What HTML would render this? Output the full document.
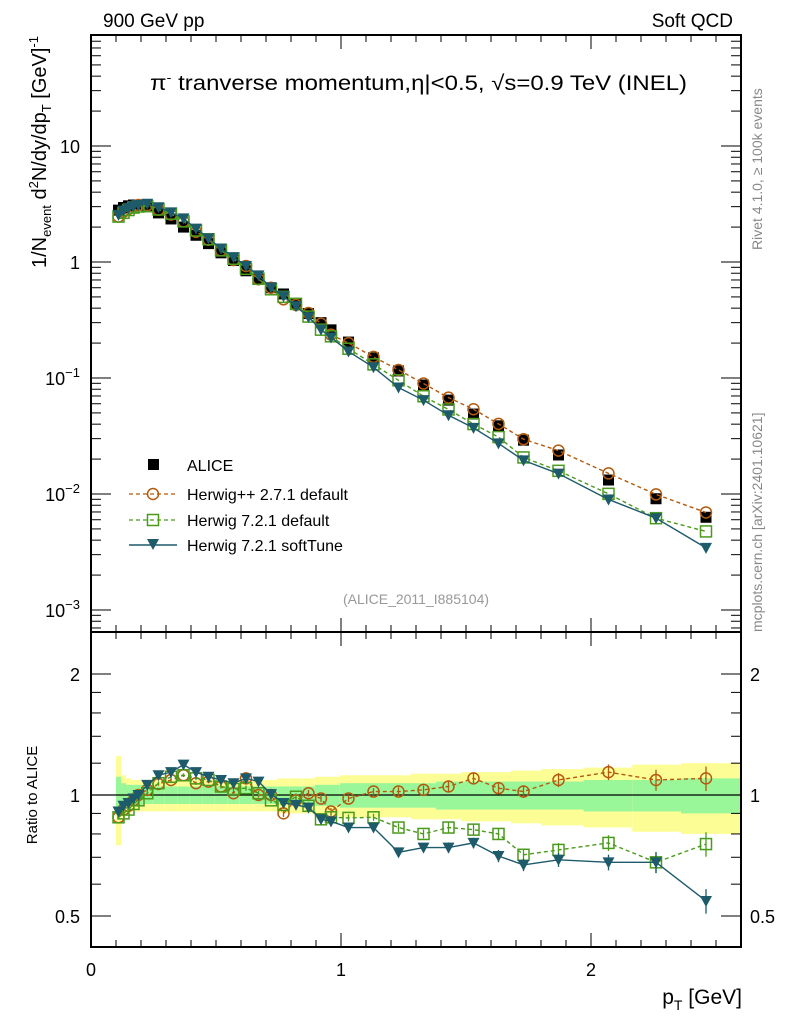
<!DOCTYPE html>
<html><head><meta charset="utf-8"><style>
html,body{margin:0;padding:0;background:#fff}
svg{display:block;font-family:"Liberation Sans",sans-serif}
</style></head><body>
<svg id="chart" width="786" height="1024" viewBox="0 0 786 1024" xmlns="http://www.w3.org/2000/svg">
<g id="bands"></g><g id="marks"></g><g id="axes"></g>
<text x="103" y="27" font-size="19">900 GeV pp</text>
<text x="733" y="27" font-size="19" text-anchor="end">Soft QCD</text>
<text x="150" y="90" font-size="21" textLength="537" lengthAdjust="spacingAndGlyphs">π<tspan font-size="13" dy="-8">-</tspan><tspan dy="8"> tranverse momentum,</tspan>η|&lt;0.5, √s=0.9 TeV (INEL)</text>
<text transform="translate(46,36) rotate(-90)" font-size="20" text-anchor="end">1/N<tspan font-size="13" dy="5">event</tspan><tspan dy="-5"> d</tspan><tspan font-size="13" dy="-8">2</tspan><tspan dy="8">N/dy/dp</tspan><tspan font-size="13" dy="5">T</tspan><tspan dy="-5">  [GeV]</tspan><tspan font-size="13" dy="-8">-1</tspan></text>
<text transform="translate(37,795) rotate(-90)" font-size="15" text-anchor="middle">Ratio to ALICE</text>
<text x="742" y="1004" font-size="21" text-anchor="end">p<tspan font-size="14" dy="6">T</tspan><tspan dy="-6"> [GeV]</tspan></text>
<text transform="translate(762,250) rotate(-90)" font-size="14" fill="#888">Rivet 4.1.0, ≥ 100k events</text>
<text transform="translate(762,632) rotate(-90)" font-size="14" fill="#888">mcplots.cern.ch [arXiv:2401.10621]</text>
<text x="416" y="604" font-size="14" fill="#999" text-anchor="middle">(ALICE_2011_I885104)</text>
<g font-size="16">
<rect x="148" y="459" width="11" height="11" fill="#000"/>
<text x="187" y="471">ALICE</text>
<line x1="129" y1="494" x2="177" y2="494" stroke="#b35a0e" stroke-width="1.3" stroke-dasharray="4,3"/>
<circle cx="153" cy="494" r="5.5" fill="none" stroke="#b35a0e" stroke-width="1.5"/>
<text x="187" y="500">Herwig++ 2.7.1 default</text>
<line x1="129" y1="520" x2="177" y2="520" stroke="#4a9a1c" stroke-width="1.3" stroke-dasharray="4,3"/>
<rect x="147.5" y="514.5" width="11" height="11" fill="none" stroke="#4a9a1c" stroke-width="1.5"/>
<text x="187" y="526">Herwig 7.2.1 default</text>
<line x1="129" y1="545" x2="177" y2="545" stroke="#1d5a6a" stroke-width="1.5"/>
<path d="M147,539 L159,539 L153,550 Z" fill="#1d5a6a"/>
<text x="187" y="551">Herwig 7.2.1 softTune</text>
</g>
</svg>
<script>
const pt=[0.11,0.13,0.15,0.17,0.19,0.225,0.27,0.32,0.37,0.42,0.47,0.52,0.57,0.62,0.67,0.72,0.77,0.82,0.87,0.92,0.96,1.03,1.13,1.23,1.33,1.43,1.53,1.63,1.73,1.87,2.07,2.26,2.46];
const alice=[2.8,2.95,3.05,3.1,3.1,3.0,2.65,2.35,2.0,1.7,1.44,1.2,1.03,0.84,0.71,0.60,0.53,0.44,0.36,0.30,0.26,0.204,0.149,0.115,0.087,0.0645,0.0489,0.0387,0.0291,0.0217,0.0132,0.0091,0.0063];
const ratioHpp=[0.88,0.92,0.94,0.97,1.0,1.03,1.065,1.09,1.12,1.07,1.08,1.05,1.01,1.10,1.0,1.0,0.9,0.97,1.01,0.98,0.91,0.98,1.02,1.02,1.03,1.05,1.10,1.04,1.02,1.09,1.14,1.09,1.10];
const ratioH7=[0.88,0.9,0.92,0.95,0.97,1.01,1.07,1.11,1.12,1.10,1.09,1.05,1.035,1.04,1.01,0.97,0.945,0.99,0.94,0.87,0.88,0.877,0.88,0.83,0.80,0.83,0.82,0.80,0.71,0.73,0.76,0.68,0.755];
const ratioSoft=[0.91,0.94,0.955,0.98,1.0,1.06,1.12,1.14,1.19,1.14,1.11,1.09,1.07,1.10,1.08,1.005,0.955,0.945,0.93,0.87,0.86,0.83,0.83,0.72,0.74,0.74,0.76,0.705,0.67,0.69,0.68,0.68,0.545];
const statErr=[0.11,0.07,0.06,0.06,0.06,0.05,0.05,0.05,0.05,0.05,0.05,0.05,0.05,0.05,0.05,0.05,0.05,0.05,0.05,0.06,0.06,0.07,0.07,0.07,0.07,0.08,0.08,0.08,0.08,0.08,0.09,0.09,0.1];
const totErr=[0.25,0.12,0.1,0.09,0.09,0.09,0.09,0.09,0.09,0.09,0.09,0.09,0.09,0.09,0.09,0.09,0.1,0.1,0.1,0.11,0.11,0.12,0.12,0.12,0.13,0.13,0.14,0.14,0.15,0.16,0.17,0.19,0.2];
const mcErr=[0.01,0.01,0.01,0.01,0.01,0.01,0.01,0.01,0.01,0.01,0.01,0.01,0.015,0.015,0.015,0.015,0.02,0.02,0.02,0.02,0.02,0.02,0.02,0.025,0.025,0.03,0.03,0.035,0.035,0.04,0.045,0.06,0.07];
const xTickLabels=["0","1","2"];
const yTickLabels=["10","1","10⁻¹","10⁻²","10⁻³"];
const yTickVals=[10,1,0.1,0.01,0.001];
const rTickVals=[0.5,1,2];

const NS="http://www.w3.org/2000/svg";
const X0=91,X1=741,T0=35,T1=632,B1=947;
const xs=v=>X0+v*250;
const ys=v=>262-116*Math.log10(v);
const yr=v=>795-121*Math.log2(v);
function mk(p,tag,a){const e=document.createElementNS(NS,tag);for(const k in a)e.setAttribute(k,a[k]);p.appendChild(e);return e;}
const gB=document.getElementById('bands'),gM=document.getElementById('marks'),gA=document.getElementById('axes');
const edges=[0.1];for(let i=0;i<pt.length-1;i++)edges.push((pt[i]+pt[i+1])/2);edges.push(2.6);
pt.forEach((p,i)=>{
 const ry=mk(gB,'rect',{x:xs(edges[i]),y:yr(1+totErr[i]),width:xs(edges[i+1])-xs(edges[i]),height:yr(1-totErr[i])-yr(1+totErr[i]),fill:'#fdfd96'});
 
 
 const rg=mk(gB,'rect',{x:xs(edges[i]),y:yr(1+statErr[i]),width:xs(edges[i+1])-xs(edges[i]),height:yr(1-statErr[i])-yr(1+statErr[i]),fill:'#99f799'});
 
 
});
mk(gB,'line',{x1:X0,x2:X1,y1:yr(1),y2:yr(1),stroke:'#000','stroke-width':1.3});
pt.forEach((p,i)=>{
 const r=mk(gM,'rect',{x:xs(p)-5.5,y:ys(alice[i])-5.5,width:11,height:11,fill:'#000'});
 
 
});
const series=[
 {r:ratioHpp,c:'#b35a0e',dash:'4,3',m:'circle',n:'herwigpp'},
 {r:ratioH7,c:'#4a9a1c',dash:'4,3',m:'square',n:'herwig7-default'},
 {r:ratioSoft,c:'#1d5a6a',dash:'',m:'tri',n:'herwig7-softtune'}];
function marker(g,m,x,y,c){
 if(m==='circle')return mk(g,'circle',{cx:x,cy:y,r:5.5,fill:'none',stroke:c,'stroke-width':1.5});
 if(m==='square')return mk(g,'rect',{x:x-5.5,y:y-5.5,width:11,height:11,fill:'none',stroke:c,'stroke-width':1.5});
 return mk(g,'path',{d:`M${x-6},${y-5} L${x+6},${y-5} L${x},${y+6} Z`,fill:c});
}
series.forEach(s=>{
 const top=pt.map((p,i)=>[xs(p),ys(alice[i]*s.r[i])]);
 const bot=pt.map((p,i)=>[xs(p),yr(s.r[i])]);
 [top,bot].forEach((pts,k)=>{
  const l=mk(gM,'polyline',{points:pts.map(q=>q.join(',')).join(' '),fill:'none',stroke:s.c,'stroke-width':1.4,'stroke-dasharray':s.dash});
  
  
 });
 pt.forEach((p,i)=>{
  const e=s.r[i]*mcErr[i];
  mk(gM,'line',{x1:xs(p),x2:xs(p),y1:yr(s.r[i]+e),y2:yr(s.r[i]-e),stroke:s.c,'stroke-width':1.3});
  const m1=marker(gM,s.m,top[i][0],top[i][1],s.c);
  
  
  const m2=marker(gM,s.m,bot[i][0],bot[i][1],s.c);
  
  
 });
});
const f1=mk(gA,'rect',{x:X0,y:T0,width:X1-X0,height:T1-T0,fill:'none',stroke:'#000','stroke-width':2});


const f2=mk(gA,'rect',{x:X0,y:T1,width:X1-X0,height:B1-T1,fill:'none',stroke:'#000','stroke-width':2});


for(let k=0;k<=26;k++){const x=xs(k/10),L=(k%10===0)?14:7;
 [[T0,1],[T1,-1],[T1,1],[B1,-1]].forEach(([y,d])=>mk(gA,'line',{x1:x,x2:x,y1:y,y2:y+d*L,stroke:'#000','stroke-width':1}));}
xTickLabels.forEach((t,i)=>{const e=mk(gA,'text',{x:xs(i),y:976,'font-size':18,'text-anchor':'middle'});e.textContent=t;
 
 });
for(let d=-4;d<=1;d++)for(let m=1;m<=9;m++){const v=m*Math.pow(10,d),y=ys(v);if(y<T0||y>T1)continue;const L=m===1?20:10;
 mk(gA,'line',{x1:X0,x2:X0+L,y1:y,y2:y,stroke:'#000'});mk(gA,'line',{x1:X1,x2:X1-L,y1:y,y2:y,stroke:'#000'});}
yTickVals.forEach((v,i)=>{const e=mk(gA,'text',{x:80,y:ys(v)+7,'font-size':18,'text-anchor':'end'});
 const t=yTickLabels[i];
 if(t.length>2&&t.startsWith('10')){e.textContent='10';const s=mk(e,'tspan',{dy:-8,'font-size':13});s.textContent=t==='10⁻¹'?'−1':t==='10⁻²'?'−2':'−3';}
 else e.textContent=t;
 
 });
[0.5,0.6,0.7,0.8,0.9,1,1.2,1.4,1.6,1.8,2].forEach(v=>{const y=yr(v),L=(v===0.5||v===1||v===2)?20:10;
 mk(gA,'line',{x1:X0,x2:X0+L,y1:y,y2:y,stroke:'#000'});mk(gA,'line',{x1:X1,x2:X1-L,y1:y,y2:y,stroke:'#000'});});
rTickVals.forEach(v=>{[[80,'end'],[750,'start']].forEach(([x,a])=>{const e=mk(gA,'text',{x:x,y:yr(v)+7,'font-size':18,'text-anchor':a});e.textContent=String(v);
 
 });});
</script>
</body></html>
